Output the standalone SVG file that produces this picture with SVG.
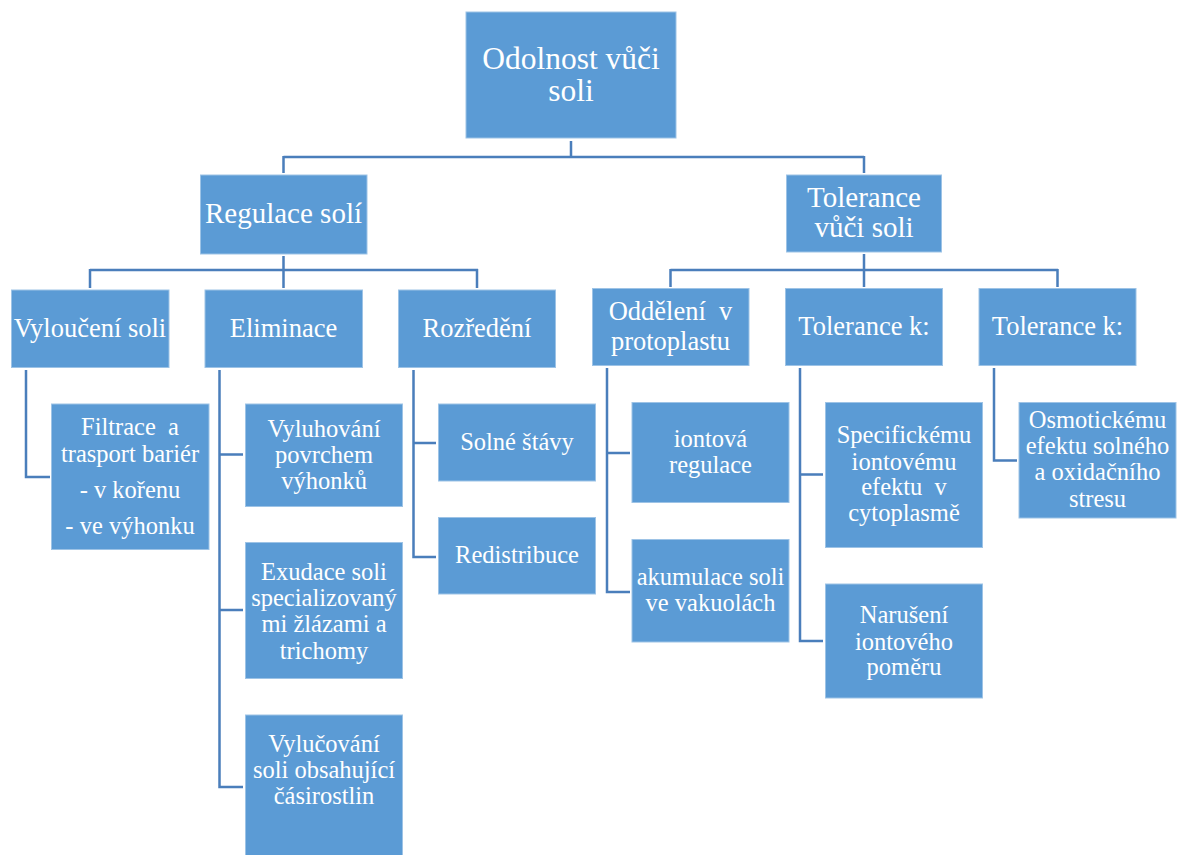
<svg xmlns="http://www.w3.org/2000/svg" width="1183" height="855" viewBox="0 0 1183 855">
<style>
.box{fill:#5B9BD5;stroke:#9DC3E6;stroke-width:1}
.t{font-family:"Liberation Serif","Times New Roman",serif;fill:#ffffff;text-anchor:middle}
.l0{font-size:31.5px}
.l1{font-size:29px}
.l2{font-size:26.5px}
.l3{font-size:24.5px}
.c{fill:none;stroke:#4A7EBB;stroke-width:2.5}
</style>
<rect width="1183" height="855" fill="#ffffff"/>
<g id="connectors">
<path class="c" d="M571,141 V157 M283.5,157 H864 M283.5,156 V173 M864,156 V173"/>
<path class="c" d="M283.5,256 V270 M90,270 H478 M90,269 V288 M283.5,269 V288 M477,269 V288"/>
<path class="c" d="M864,254 V270 M670.5,270 H1058 M670.5,269 V287 M864,269 V287 M1057.5,269 V287"/>
<path class="c" d="M26,370 V477 H50"/>
<path class="c" d="M219.5,370 V787 H243 M219.5,454.5 H243 M219.5,610 H243"/>
<path class="c" d="M413.5,370 V557 H436 M413.5,443 H436"/>
<path class="c" d="M607,368 V592 H630 M607,453 H630"/>
<path class="c" d="M800,368 V641 H823 M800,474.5 H823"/>
<path class="c" d="M994,368 V460.5 H1017"/>
</g>
<g id="n-root"><rect class="box" x="466" y="12" width="210" height="126"/>
<text class="t l0" x="571" y="69">Odolnost vůči</text><text class="t l0" x="571" y="101">soli</text></g>
<g id="n-regulace"><rect class="box" x="200.5" y="175" width="166.5" height="79"/>
<text class="t l1" x="283.5" y="223">Regulace solí</text></g>
<g id="n-tolerance"><rect class="box" x="786.5" y="175" width="155" height="77"/>
<text class="t l1" x="864" y="207">Tolerance</text><text class="t l1" x="864" y="237">vůči soli</text></g>
<g id="n-vylouceni"><rect class="box" x="11.5" y="290" width="157.5" height="77.5"/>
<text class="t l2" x="90" y="337">Vyloučení soli</text></g>
<g id="n-eliminace"><rect class="box" x="205" y="290" width="157.5" height="77.5"/>
<text class="t l2" x="283.5" y="337">Eliminace</text></g>
<g id="n-rozredeni"><rect class="box" x="398.5" y="290" width="157" height="77.5"/>
<text class="t l2" x="477" y="337">Rozředění</text></g>
<g id="n-oddeleni"><rect class="box" x="592.5" y="288.5" width="156.5" height="77"/>
<text class="t l2" x="670.5" y="319.5" xml:space="preserve">Oddělení  v</text><text class="t l2" x="670.5" y="349.5">protoplastu</text></g>
<g id="n-tolk1"><rect class="box" x="785.5" y="288.5" width="157" height="77"/>
<text class="t l2" x="864" y="335">Tolerance k:</text></g>
<g id="n-tolk2"><rect class="box" x="979" y="288.5" width="157" height="77"/>
<text class="t l2" x="1057.5" y="335">Tolerance k:</text></g>
<g id="n-filtrace"><rect class="box" x="51.5" y="404" width="157.5" height="145.5"/>
<text class="t l3" x="130" y="435" xml:space="preserve">Filtrace  a</text><text class="t l3" x="130" y="462">trasport bariér</text><text class="t l3" x="130" y="498">- v kořenu</text><text class="t l3" x="130" y="534">- ve výhonku</text></g>
<g id="n-vyluhovani"><rect class="box" x="245.5" y="404" width="157" height="102.5"/>
<text class="t l3" x="324" y="437">Vyluhování</text><text class="t l3" x="324" y="463">povrchem</text><text class="t l3" x="324" y="489">výhonků</text></g>
<g id="n-exudace"><rect class="box" x="245.5" y="542.5" width="157" height="136"/>
<text class="t l3" x="324" y="580">Exudace soli</text><text class="t l3" x="324" y="606">specializovaný</text><text class="t l3" x="324" y="632">mi žlázami a</text><text class="t l3" x="324" y="659">trichomy</text></g>
<g id="n-vylucovani"><rect class="box" x="245.5" y="715" width="157" height="145"/>
<text class="t l3" x="324" y="752">Vylučování</text><text class="t l3" x="324" y="778">soli obsahující</text><text class="t l3" x="324" y="804">čásirostlin</text></g>
<g id="n-solne"><rect class="box" x="438.5" y="404" width="157" height="77"/>
<text class="t l3" x="517" y="450">Solné štávy</text></g>
<g id="n-redistribuce"><rect class="box" x="438.5" y="517.5" width="157" height="76.5"/>
<text class="t l3" x="517" y="563">Redistribuce</text></g>
<g id="n-iontova"><rect class="box" x="632" y="402.5" width="157" height="100"/>
<text class="t l3" x="710.5" y="447">iontová</text><text class="t l3" x="710.5" y="473">regulace</text></g>
<g id="n-akumulace"><rect class="box" x="632" y="539.5" width="157" height="102.5"/>
<text class="t l3" x="710.5" y="585">akumulace soli</text><text class="t l3" x="710.5" y="611">ve vakuolách</text></g>
<g id="n-specifickemu"><rect class="box" x="825.5" y="402.5" width="157" height="145"/>
<text class="t l3" x="904" y="443">Specifickému</text><text class="t l3" x="904" y="470">iontovému</text><text class="t l3" x="904" y="495" xml:space="preserve">efektu  v</text><text class="t l3" x="904" y="521">cytoplasmě</text></g>
<g id="n-naruseni"><rect class="box" x="825.5" y="584" width="157" height="114"/>
<text class="t l3" x="904" y="623">Narušení</text><text class="t l3" x="904" y="650">iontového</text><text class="t l3" x="904" y="675">poměru</text></g>
<g id="n-osmotickemu"><rect class="box" x="1019" y="402.5" width="157" height="115.5"/>
<text class="t l3" x="1097.5" y="428">Osmotickému</text><text class="t l3" x="1097.5" y="454">efektu solného</text><text class="t l3" x="1097.5" y="480">a oxidačního</text><text class="t l3" x="1097.5" y="507">stresu</text></g>
</svg>
